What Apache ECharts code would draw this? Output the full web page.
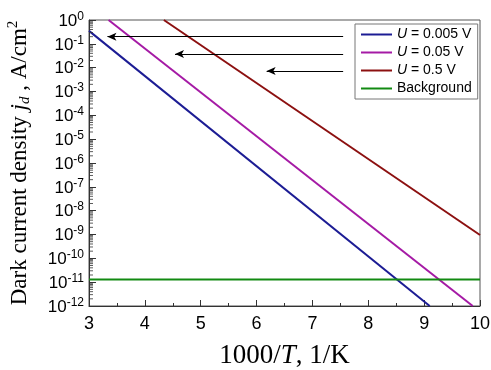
<!DOCTYPE html>
<html>
<head>
<meta charset="utf-8">
<script src="https://cdn.jsdelivr.net/npm/echarts@6/dist/echarts.min.js"></script>
<style>
  html, body { margin: 0; padding: 0; background: #fff; }
  #chart { width: 491px; height: 370px; }
</style>
</head>
<body>
<div id="chart"></div>
<script>
// series end points: [1000/T, jd]
const seriesNames = ['U = 0.005 V', 'U = 0.05 V', 'U = 0.5 V', 'Background'];
const line005 = [[3, 0.35], [9.1, 1e-12]];
const line05 = [[3.35, 1], [9.87, 1e-12]];
const line5 = [[4.34, 1], [10, 9.5e-10]];
const backgroundLine = [[3, 1.3e-11], [10, 1.3e-11]];
const lineColors = ['#1c1c94', '#a51aa5', '#8c1010', '#128a12'];

// arrows: level, tip x, tail x
const arrowLevels = [0.2, 0.037, 0.0072];
const arrowTips = [3.33, 4.54, 6.18];
const arrowTail = 7.55;

// log minor tick positions on the left axis
const minorTicks = [];
for (let e = -12; e < 0; e++) {
  for (let m = 2; m <= 9; m++) minorTicks.push([3, m * Math.pow(10, e)]);
}

const chart = echarts.init(document.getElementById('chart'));

const allSeries = [line005, line05, line5, backgroundLine].map((d, i) => ({
  name: seriesNames[i],
  type: 'line',
  data: d,
  showSymbol: false,
  symbol: 'none',
  lineStyle: { color: lineColors[i], width: 2 },
  itemStyle: { color: lineColors[i] },
  z: 3
}));

allSeries.push({
  type: 'line',
  data: [],
  silent: true,
  markLine: {
    silent: true,
    symbol: ['none', 'arrow'],
    symbolSize: [6, 9],
    label: { show: false },
    lineStyle: { color: '#000', width: 1, type: 'solid' },
    data: arrowLevels.map((y, i) => [
      { coord: [arrowTail, y] },
      { coord: [arrowTips[i], y] }
    ])
  }
});

// minor ticks as thin marks sitting on the axis
allSeries.push({
  type: 'scatter',
  data: minorTicks,
  silent: true,
  symbol: 'rect',
  symbolSize: [4, 1],
  symbolOffset: [2, 0],
  itemStyle: { color: '#333' },
  z: 4
});

const option = {
  animation: false,
  grid: {
    left: 89, right: 11, top: 20, bottom: 64,
    outerBoundsMode: 'none',
    show: true, borderColor: '#555', borderWidth: 1
  },
  legend: {
    data: seriesNames,
    orient: 'vertical',
    left: 355, top: 24,
    width: 118,
    backgroundColor: '#fff',
    borderColor: '#777',
    borderWidth: 1,
    padding: [3, 6, 3, 6],
    icon: 'rect',
    itemWidth: 31,
    itemHeight: 2,
    itemGap: 3,
    textStyle: {
      fontFamily: 'Liberation Sans', fontSize: 14, color: '#000', lineHeight: 15,
      rich: { i: { fontStyle: 'italic', fontFamily: 'Liberation Sans', fontSize: 14 } }
    },
    formatter: n => n.charAt(0) === 'U' ? '{i|U}' + n.slice(1) : n
  },
  xAxis: {
    type: 'value',
    min: 3, max: 10, interval: 1,
    splitLine: { show: false },
    axisLine: { onZero: false, lineStyle: { color: '#333', width: 1 } },
    axisTick: { inside: true, length: 6, lineStyle: { color: '#333' } },
    minorTick: { show: true, splitNumber: 2, length: 3, lineStyle: { color: '#333' } },
    axisLabel: { fontFamily: 'Liberation Sans', fontSize: 18, color: '#000', margin: 9 },
    name: '{n|1000/}{i|T}{n|, 1/K}',
    nameLocation: 'middle',
    nameGap: 36,
    nameTextStyle: {
      rich: {
        n: { fontFamily: 'Liberation Serif', fontSize: 27, color: '#000' },
        i: { fontFamily: 'Liberation Serif', fontSize: 27, fontStyle: 'italic', color: '#000' }
      }
    }
  },
  yAxis: {
    type: 'log',
    logBase: 10,
    min: 1e-12, max: 1,
    interval: 1,
    splitLine: { show: false },
    axisLine: { lineStyle: { color: '#333', width: 1 } },
    axisTick: { inside: true, length: 7, lineStyle: { color: '#333' } },
    axisLabel: {
      margin: 5,
      formatter: v => '{b|10}{s|' + Math.round(Math.log10(v)) + '}',
      rich: {
        b: { fontFamily: 'Liberation Sans', fontSize: 17, color: '#000', lineHeight: 19, verticalAlign: 'bottom' },
        s: { fontFamily: 'Liberation Sans', fontSize: 12, color: '#000', lineHeight: 19, verticalAlign: 'top', padding: [0, 0, 8, 0] }
      }
    },
    name: '{t|Dark current density }{i|j}{d|d}{t| , A/cm}{s|2}',
    nameLocation: 'middle',
    nameRotate: 90,
    nameGap: 56,
    nameTextStyle: {
      rich: {
        t: { fontFamily: 'Liberation Serif', fontSize: 23, color: '#000' },
        i: { fontFamily: 'Liberation Serif', fontSize: 23, fontStyle: 'italic', color: '#000' },
        d: { fontFamily: 'Liberation Serif', fontSize: 15, fontStyle: 'italic', color: '#000', padding: [11, 0, 0, 0] },
        s: { fontFamily: 'Liberation Serif', fontSize: 15, color: '#000', padding: [0, 0, 12, 0] }
      }
    }
  },
  series: allSeries
};

chart.setOption(option);
</script>
</body>
</html>
